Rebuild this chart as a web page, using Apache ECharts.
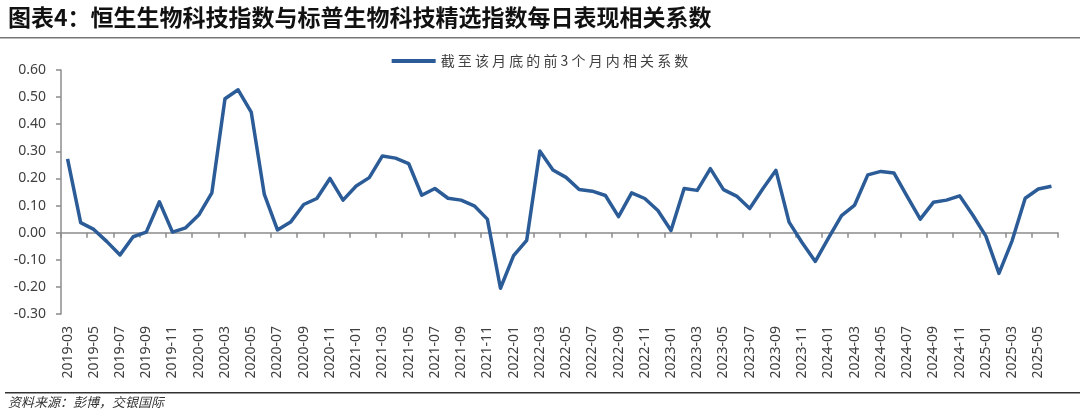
<!DOCTYPE html>
<html>
<head>
<meta charset="utf-8">
<script src="https://cdn.jsdelivr.net/npm/echarts@6/dist/echarts.min.js"></script>
<style>
html,body{margin:0;padding:0;background:#fff;}
#c{width:1080px;height:414px;}
</style>
</head>
<body>
<div id="c"></div>
<script>
var titleText = '图表4：恒生生物科技指数与标普生物科技精选指数每日表现相关系数';
var sourceText = '资料来源：彭博，交银国际';
var seriesName = '截至该月底的前3个月内相关系数';

var months = [];
(function(){
  var y = 2019, m = 3;
  while (y < 2025 || (y === 2025 && m <= 6)) {
    months.push(y + '-' + (m < 10 ? '0' + m : '' + m));
    m++; if (m > 12) { m = 1; y++; }
  }
})();

var corr = [
  0.272, 0.037, 0.012, -0.033, -0.082, -0.015, 0.002, 0.114, 0.002, 0.018,
  0.065, 0.147, 0.494, 0.527, 0.445, 0.141, 0.010, 0.039, 0.104, 0.126,
  0.200, 0.120, 0.172, 0.203, 0.283, 0.275, 0.255, 0.138, 0.163, 0.127,
  0.120, 0.099, 0.050, -0.205, -0.085, -0.028, 0.301, 0.231, 0.204, 0.159,
  0.153, 0.137, 0.059, 0.147, 0.126, 0.082, 0.008, 0.163, 0.156, 0.236,
  0.159, 0.135, 0.089, 0.162, 0.230, 0.039, -0.037, -0.106, -0.020, 0.063,
  0.102, 0.213, 0.226, 0.220, 0.134, 0.050, 0.112, 0.120, 0.136, 0.065,
  -0.013, -0.150, -0.030, 0.127, 0.161, 0.171
];

var yMin = -0.3, yMax = 0.6, yStep = 0.1;

var chart = echarts.init(document.getElementById('c'), null, {renderer: 'canvas'});
var axisGray = '#8c8c8c';
var labelColor = '#404040';
var lineColor = '#2b5c97';

chart.setOption({
  animation: false,
  backgroundColor: '#ffffff',
  textStyle: {fontFamily: '"Noto Sans", "Noto Sans CJK SC", sans-serif'},
  grid: {left: 61, right: 22, top: 70, bottom: 100, containLabel: false},
  legend: {
    top: 49,
    left: 'center',
    itemWidth: 44,
    itemHeight: 14,
    itemGap: 10,
    data: [{name: seriesName, icon: 'path://M0,0 L44,0 L44,4 L0,4 Z'}],
    formatter: function (n) { return n.split('').join(' '); },
    textStyle: {fontSize: 14, color: '#404040', fontFamily: '"Noto Sans CJK SC", sans-serif'}
  },
  xAxis: [
    {
      type: 'category',
      data: months,
      boundaryGap: true,
      position: 'bottom',
      axisLine: {show: false, onZero: false},
      axisTick: {show: false},
      axisLabel: {
        interval: 1,
        rotate: 90,
        fontSize: 14,
        color: labelColor,
        margin: 12,
        fontFamily: '"Noto Sans", sans-serif'
      }
    },
    {
      type: 'category',
      data: months,
      boundaryGap: true,
      position: 'bottom',
      axisLine: {show: true, onZero: true, lineStyle: {color: axisGray, width: 1.5}},
      axisTick: {show: true, interval: 1, length: 5, inside: false, lineStyle: {color: axisGray, width: 1.5}},
      axisLabel: {show: false}
    }
  ],
  yAxis: {
    type: 'value',
    min: yMin,
    max: yMax,
    interval: yStep,
    splitLine: {show: false},
    axisLine: {show: true, lineStyle: {color: axisGray, width: 1.5}},
    axisTick: {show: true, length: 5, lineStyle: {color: axisGray, width: 1.5}},
    axisLabel: {
      fontSize: 14,
      color: labelColor,
      margin: 15,
      fontFamily: '"Noto Sans", sans-serif',
      formatter: function (v) { return (Math.round(v * 100) / 100).toFixed(2); }
    }
  },
  series: [{
    name: seriesName,
    type: 'line',
    xAxisIndex: 0,
    data: corr,
    symbol: 'none',
    lineStyle: {color: lineColor, width: 3.5, join: 'round'},
    itemStyle: {color: lineColor}
  }],
  graphic: [
    {type: 'text', left: 8, top: 6,
     style: {text: titleText, fontSize: 23, fontWeight: 'bold', fill: '#111',
             fontFamily: '"Noto Sans CJK SC", sans-serif'}},
    {type: 'rect', shape: {x: 0, y: 37, width: 1080, height: 1.5}, style: {fill: '#777'}},
    {type: 'rect', shape: {x: 5, y: 392, width: 1075, height: 1.5}, style: {fill: '#333'}},
    {type: 'text', left: 8, top: 396,
     style: {text: sourceText, fontSize: 13, fontStyle: 'italic', fill: '#333',
             fontFamily: '"Noto Sans CJK SC", sans-serif'}}
  ]
});
</script>
</body>
</html>
